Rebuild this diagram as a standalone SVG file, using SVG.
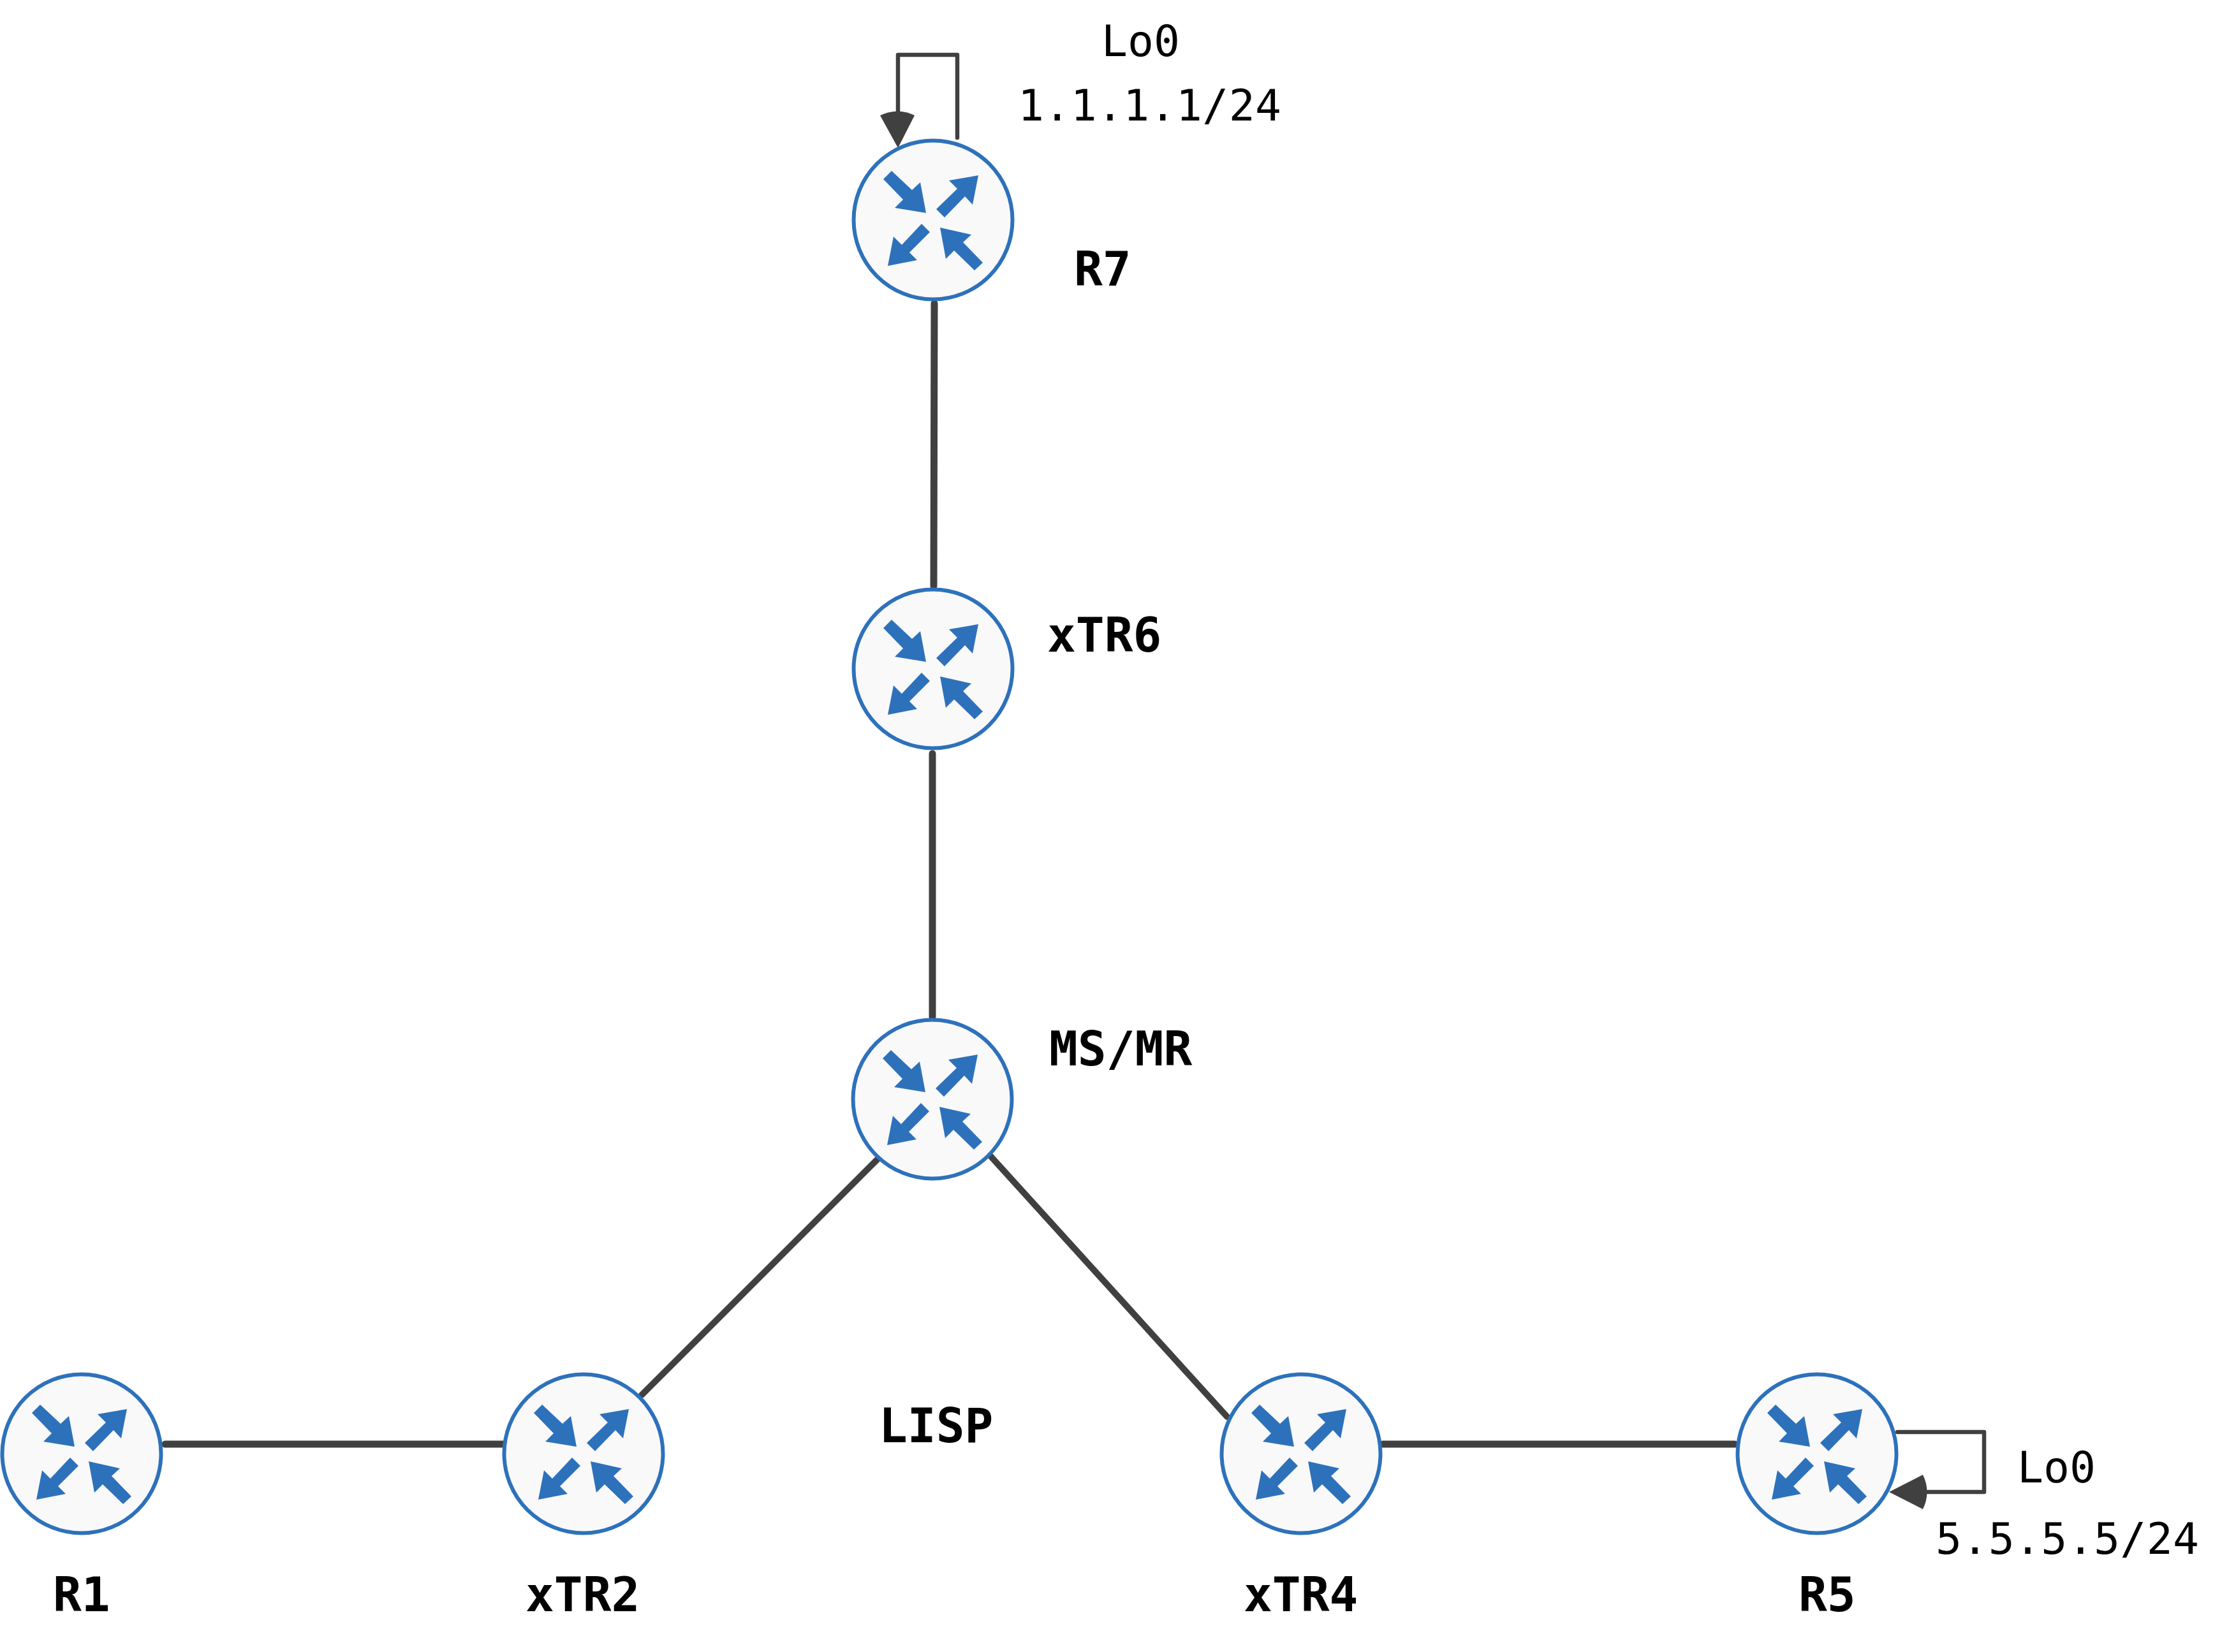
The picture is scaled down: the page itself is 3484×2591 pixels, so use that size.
<svg xmlns="http://www.w3.org/2000/svg" width="3484" height="2591" viewBox="0 0 3484 2591">
<style>
.body{fill:#f9f9f9;stroke:#2d71bb;stroke-width:6}
.ar{fill:#2d71bb}
.thick{fill:none;stroke:#404040;stroke-width:11;stroke-linecap:round}
.diag{fill:none;stroke:#404040;stroke-width:10;stroke-linecap:round}
.thin{fill:none;stroke:#404040;stroke-width:6.5;stroke-linejoin:round;stroke-linecap:round}
.head{fill:#404040}
.name{font-family:"DejaVu Sans Mono",monospace;font-weight:bold;font-size:74.5px;fill:#000}
.addr{font-family:"DejaVu Sans Mono",monospace;font-size:68px;fill:#000}
</style>
<defs>
<g id="router">
<circle class="body" cx="0" cy="0" r="124.5"/>
<polygon class="ar" points="-65,-77 -33,-47 -20,-59 -11,-11 -60,-19 -47,-32 -78,-64"/>
<polygon class="ar" points="25,-62 71,-70 62,-24 50,-37 18,-4 5,-17 38,-49"/>
<polygon class="ar" points="-18,6 -5,19 -37,51 -25,63 -71,72 -62,26 -49,39"/>
<polygon class="ar" points="11,12 60,23 47,35 78,67 65,79 33,48 20,61"/>
</g>
</defs>
<rect width="3484" height="2591" fill="#fff"/>
<g id="connectors">
<line class="thick" x1="259" y1="2265" x2="790" y2="2265"/>
<line class="thick" x1="2168" y1="2265" x2="2720" y2="2265"/>
<line class="thick" x1="1465" y1="476" x2="1464" y2="919"/>
<line class="thick" x1="1462" y1="1182" x2="1462" y2="1595"/>
<line class="diag" x1="1377" y1="1817" x2="1006" y2="2188"/>
<line class="diag" x1="1552" y1="1812" x2="1924" y2="2222"/>
<path class="thin" d="M1501 216V86H1408V180"/>
<path class="head" d="M1408 232L1380 181Q1408 168 1434 181Z"/>
<path class="thin" d="M2975 2246H3111V2340H3015"/>
<path class="head" d="M2962 2340L3015 2313Q3028 2340 3015 2367Z"/>
</g>
<g id="node-r7"><use href="#router" x="1463" y="345"/><text class="name" x="1684" y="448">R7</text><text class="addr" x="1727" y="88">Lo0</text><text class="addr" x="1596" y="189" textLength="413">1.1.1.1/24</text></g>
<g id="node-xtr6"><use href="#router" x="1463" y="1049"/><text class="name" x="1642" y="1022">xTR6</text></g>
<g id="node-msmr"><use href="#router" x="1462" y="1724"/><text class="name" x="1645" y="1671">MS/MR</text></g>
<g id="node-r1"><use href="#router" x="128" y="2280"/><text class="name" x="83" y="2527">R1</text></g>
<g id="node-xtr2"><use href="#router" x="915" y="2280"/><text class="name" x="824" y="2527">xTR2</text></g>
<g id="node-xtr4"><use href="#router" x="2040" y="2280"/><text class="name" x="1950" y="2527">xTR4</text></g>
<g id="node-r5"><use href="#router" x="2849" y="2280"/><text class="name" x="2820" y="2527">R5</text><text class="addr" x="3163" y="2325">Lo0</text><text class="addr" x="3035" y="2437" textLength="413">5.5.5.5/24</text></g>
<g id="label-lisp"><text class="name" x="1378" y="2262">LISP</text></g>
</svg>
